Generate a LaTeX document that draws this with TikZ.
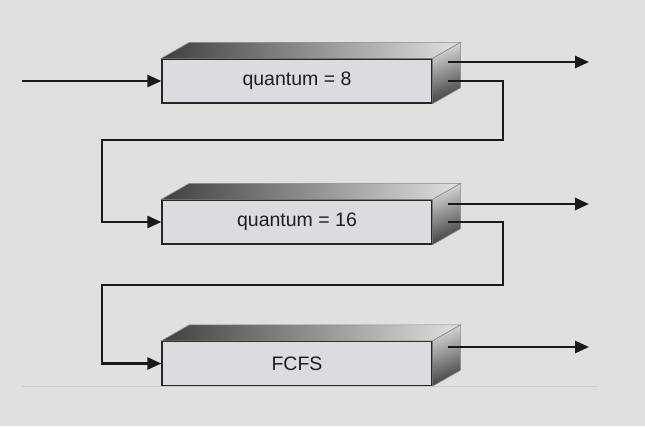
\documentclass[tikz,border=0pt]{standalone}
\usepackage{fontspec}
\setmainfont{Liberation Sans}
\usetikzlibrary{arrows.meta,calc}
\definecolor{bgc}{HTML}{E0E0DE}
\definecolor{frontc}{HTML}{DCDBE0}
\definecolor{rulec}{HTML}{CACACA}
\tikzset{
  frontbox/.style={draw=black!85, line width=1.3pt, fill=frontc, minimum width=270pt,
    minimum height=44pt, inner sep=0pt, font=\fontsize{19.5}{22}\selectfont, text=black!88},
  conn/.style={line width=2.6pt, black!90},
  arr/.style={conn, -{Triangle[length=14pt,width=12pt]}},
}
\newcommand{\boxfaces}[1]{%
  \shade[left color=black!75, right color=black!12, draw=black!45, line width=0.6pt]
    (#1.north west) -- ++(28,-16) -- ($(#1.north east)+(28,-16)$) -- (#1.north east) -- cycle;
  \shade[top color=black!15, bottom color=black!75, shading angle=20, draw=black!45, line width=0.6pt]
    (#1.north east) -- ($(#1.north east)+(28,-16)$) -- ($(#1.south east)+(28,-16)$) -- (#1.south east) -- cycle;
}
\begin{document}
\begin{tikzpicture}[x=1pt,y=-1pt]
\fill[bgc] (0,0) rectangle (645,426);
\useasboundingbox (0,0) rectangle (645,426);
\draw[rulec, line width=1pt] (22,386.5) -- (597,386.5);

\node[frontbox] (b1) at (297,81) {quantum = 8};
\boxfaces{b1}
\node[frontbox] (b2) at (297,222) {quantum = 16};
\boxfaces{b2}
\node[frontbox] (b3) at (297,363.5) {FCFS};
\boxfaces{b3}

% coordinates
\coordinate (in) at (22,81);
\coordinate (o1a) at (448,62);   \coordinate (e1) at (589,62);
\coordinate (o1b) at (448,81);
\coordinate (r1) at (503,140);   \coordinate (l1) at (102,140);
\coordinate (o2a) at (448,204);  \coordinate (e2) at (589,204);
\coordinate (o2b) at (448,222);
\coordinate (r2) at (503,285);   \coordinate (l2) at (102,285);
\coordinate (o3a) at (448,347);  \coordinate (e3) at (589,347);

\draw[arr] (in) -- (b1.west);
\draw[arr] (o1a) -- (e1);
\draw[arr] (o1b) -| (r1) -- (l1) |- (b2.west);
\draw[arr] (o2a) -- (e2);
\draw[arr] (o2b) -| (r2) -- (l2) |- (b3.west);
\draw[arr] (o3a) -- (e3);
\end{tikzpicture}
\end{document}
